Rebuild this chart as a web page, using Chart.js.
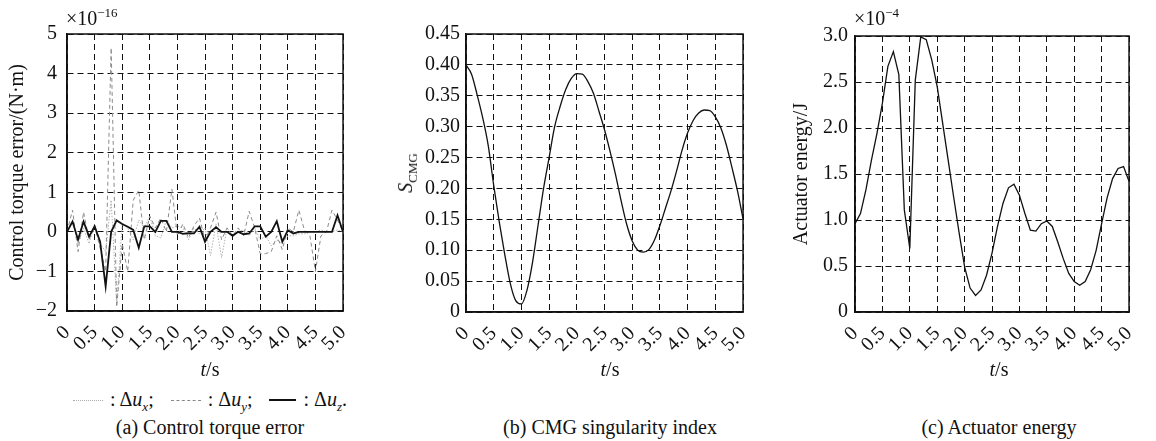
<!DOCTYPE html>
<html>
<head>
<meta charset="utf-8">
<script src="https://cdn.jsdelivr.net/npm/chart.js@4.4.1/dist/chart.umd.min.js"></script>
<style>
  html, body { margin: 0; padding: 0; background: #fff; }
  body { width: 1156px; height: 441px; position: relative; overflow: hidden; font-family: "Liberation Serif", "DejaVu Serif", serif; color: #111; }
  .cv { position: absolute; }
  .txt { position: absolute; white-space: nowrap; font-size: 20px; line-height: 1; }
  .ctr { transform: translate(-50%, -50%); }
  sup { font-size: 13px; vertical-align: 0; position: relative; top: -8px; }
  sub { font-size: 13px; vertical-align: 0; position: relative; top: 5px; }
  .sample { display: inline-block; width: 30px; height: 0; vertical-align: middle; margin-right: 7px; position: relative; top: -1px; }
  .item { margin-right: 12px; }
</style>
</head>
<body>
<canvas id="ca" class="cv" width="370" height="360" style="left:0;top:0;"></canvas>
<canvas id="cb" class="cv" width="390" height="360" style="left:380px;top:0;"></canvas>
<canvas id="cc" class="cv" width="386" height="360" style="left:770px;top:0;"></canvas>

<div class="txt" style="left:66px;top:8px;">×10<sup>−16</sup></div>
<div class="txt" style="left:854px;top:8px;">×10<sup>−4</sup></div>

<div class="txt ctr" style="left:210px;top:369px;"><i>t</i>/s</div>
<div class="txt ctr" style="left:610px;top:369px;"><i>t</i>/s</div>
<div class="txt ctr" style="left:999px;top:369px;"><i>t</i>/s</div>

<div class="txt ctr" style="left:405px;top:173px;transform:translate(-50%,-50%) rotate(-90deg);"><i>S</i><sub>CMG</sub></div>

<div class="txt ctr" style="left:210px;top:399px;">
  <span class="sample" style="border-top:1px dotted #aaa;"></span>: Δ<i>u</i><sub><i>x</i></sub>;<span class="item"></span>
  <span class="sample" style="border-top:1px dashed #888;"></span>: Δ<i>u</i><sub><i>y</i></sub>;<span class="item"></span>
  <span class="sample" style="border-top:2px solid #111;width:27px;"></span>: Δ<i>u</i><sub><i>z</i></sub>.
</div>

<div class="txt ctr" style="left:210px;top:427px;">(a) Control torque error</div>
<div class="txt ctr" style="left:610px;top:427px;">(b) CMG singularity index</div>
<div class="txt ctr" style="left:999px;top:427px;">(c) Actuator energy</div>

<script>
// ---------- data ----------
const timeS = [0,0.1,0.2,0.3,0.4,0.5,0.6,0.7,0.8,0.9,1.0,1.1,1.2,1.3,1.4,1.5,1.6,1.7,1.8,1.9,
  2.0,2.1,2.2,2.3,2.4,2.5,2.6,2.7,2.8,2.9,3.0,3.1,3.2,3.3,3.4,3.5,3.6,3.7,3.8,3.9,
  4.0,4.1,4.2,4.3,4.4,4.5,4.6,4.7,4.8,4.9,5.0];

// (a) control torque error, units 1e-16 N·m
const deltaUx = [0,0.3,-0.3,0.1,-0.3,0.2,-0.3,-0.5,0.8,-1.8,0.2,0.1,-0.2,0.3,0.1,0.4,-0.1,-0.15,0.3,0.1,
  0.15,0.1,-0.2,0.1,-0.05,0.1,-0.6,0.2,-0.65,0.1,-0.1,0.0,0.05,-0.1,0.1,-0.2,-0.1,-0.35,-0.2,-0.3,
  -0.1,-0.1,-0.05,-0.05,0.0,0.0,0.05,0.0,0.0,0.05,0.0];
const deltaUy = [0,0.55,-0.5,0.5,-0.2,0.15,-0.4,-1.0,4.65,-1.9,-0.3,-1.0,0.8,1.05,-0.2,0.4,0.1,0.35,0.0,1.08,
  -0.1,0.2,-0.15,0.15,0.35,-0.2,0.1,0.5,-0.2,0.1,-0.1,0.1,-0.1,0.52,0.1,-0.55,-0.55,-0.5,-0.1,-0.45,
  0.1,0.0,0.55,0.05,-0.1,-1.0,-0.1,0.0,0.55,0.3,0.0];
const deltaUz = [0,0.26,-0.2,0.26,-0.12,0.14,-0.25,-1.38,0.0,0.29,0.2,0.13,0.05,-0.4,0.14,0.14,0.0,0.28,0.28,0.0,
  0.0,-0.05,-0.03,-0.04,0.13,-0.25,0.0,0.12,0.0,0.0,-0.1,0.0,-0.06,-0.04,0.14,0.14,-0.12,0.0,0.27,-0.25,
  0.04,-0.04,0.0,0.0,0.0,0.0,0.0,0.0,0.0,0.42,0.0];

// (b) CMG singularity index
const sCMG = [0.400,0.385,0.352,0.315,0.270,0.205,0.146,0.093,0.046,0.018,0.013,0.035,0.080,0.140,0.200,0.250,0.300,0.333,0.360,0.378,
  0.386,0.385,0.373,0.354,0.325,0.295,0.260,0.222,0.180,0.142,0.115,0.100,0.097,0.101,0.116,0.140,0.168,0.196,0.228,0.262,
  0.290,0.310,0.322,0.327,0.326,0.316,0.298,0.270,0.234,0.196,0.151];

// (c) actuator energy, units 1e-4 J
const energy = [0.96,1.07,1.33,1.65,1.94,2.27,2.67,2.83,2.58,1.11,0.69,2.52,2.99,2.96,2.74,2.45,2.05,1.65,1.25,0.86,
  0.49,0.26,0.18,0.24,0.40,0.64,0.93,1.18,1.35,1.39,1.27,1.07,0.89,0.88,0.96,0.99,0.93,0.76,0.58,0.42,
  0.33,0.29,0.33,0.46,0.67,0.96,1.24,1.45,1.56,1.58,1.42];

const xTicks = [0,0.5,1.0,1.5,2.0,2.5,3.0,3.5,4.0,4.5,5.0];
const yTicksA = [-2,-1,0,1,2,3,4,5];
const yTicksB = [0,0.05,0.10,0.15,0.20,0.25,0.30,0.35,0.40,0.45];
const yTicksC = [0,0.5,1.0,1.5,2.0,2.5,3.0];

// ---------- helpers ----------
const pts = (vals) => vals.map((v, i) => ({ x: timeS[i], y: v }));
const FONT = { family: "'Liberation Serif', 'DejaVu Serif', serif", size: 20 };

const framePlugin = {
  id: 'frame',
  afterDraw(chart) {
    const { ctx, chartArea: a } = chart;
    ctx.save();
    ctx.strokeStyle = '#111';
    ctx.lineWidth = 1.5;
    ctx.setLineDash([]);
    ctx.strokeRect(a.left, a.top, a.right - a.left, a.bottom - a.top);
    ctx.restore();
  }
};

function makeChart(id, datasets, opt) {
  const ctx = document.getElementById(id);
  return new Chart(ctx, {
    type: 'line',
    data: { datasets },
    plugins: [framePlugin],
    options: {
      responsive: false,
      animation: false,
      events: [],
      layout: { padding: { top: opt.top, right: opt.right, left: 0, bottom: 0 } },
      plugins: { legend: { display: false }, tooltip: { enabled: false } },
      elements: { point: { radius: 0 } },
      scales: {
        x: {
          type: 'linear', min: 0, max: 5,
          afterBuildTicks: (s) => { s.ticks = xTicks.map(v => ({ value: v })); },
          afterFit: (s) => { s.height = 360 - opt.bottom; },
          grid: { color: '#111', lineWidth: 1, drawTicks: false },
          border: { display: true, color: '#111', width: 1.5, dash: [6, 4] },
          ticks: {
            autoSkip: false, maxRotation: 45, minRotation: 45, padding: 10,
            color: '#111', font: FONT,
            callback: (v) => v === 0 ? '0' : v.toFixed(1)
          }
        },
        y: {
          type: 'linear', min: opt.ymin, max: opt.ymax,
          afterBuildTicks: (s) => { s.ticks = opt.yTicks.map(v => ({ value: v })); },
          afterFit: (s) => { s.width = opt.yWidth; },
          grid: { color: '#111', lineWidth: 1, drawTicks: false },
          border: { display: true, color: '#111', width: 1.5, dash: [6, 4] },
          title: opt.yTitle ? { display: true, text: opt.yTitle, color: '#111', font: FONT, padding: { top: opt.titlePad, bottom: 0 } } : { display: false },
          ticks: { autoSkip: false, padding: opt.tickPad, color: '#111', font: FONT, callback: opt.yFmt }
        }
      }
    }
  });
}

makeChart('ca', [
  { data: pts(deltaUz), borderColor: '#111', borderWidth: 1.8, tension: 0, order: 0 },
  { data: pts(deltaUy), borderColor: '#8a8a8a', borderWidth: 1, borderDash: [4, 3], tension: 0, order: 1 },
  { data: pts(deltaUx), borderColor: '#b0b0b0', borderWidth: 1, borderDash: [1.5, 1.5], tension: 0, order: 2 }
], {
  top: 34, right: 16, bottom: 311, ymin: -2, ymax: 5, yTicks: yTicksA, yWidth: 67,
  yTitle: 'Control torque error/(N·m)', titlePad: 6, tickPad: 10,
  yFmt: (v) => v < 0 ? '−' + Math.abs(v) : String(v)
});

makeChart('cb', [
  { data: pts(sCMG), borderColor: '#111', borderWidth: 1.3, tension: 0.4, cubicInterpolationMode: 'monotone' }
], {
  top: 34, right: 17, bottom: 312, ymin: 0, ymax: 0.45, yTicks: yTicksB, yWidth: 86,
  yTitle: null, titlePad: 0, tickPad: 6,
  yFmt: (v) => v === 0 ? '0' : v.toFixed(2)
});

makeChart('cc', [
  { data: pts(energy), borderColor: '#111', borderWidth: 1.3, tension: 0 }
], {
  top: 36, right: 14, bottom: 312, ymin: 0, ymax: 3, yTicks: yTicksC, yWidth: 85,
  yTitle: 'Actuator energy/J', titlePad: 20, tickPad: 7,
  yFmt: (v) => v === 0 ? '0' : v.toFixed(1)
});
</script>
</body>
</html>
